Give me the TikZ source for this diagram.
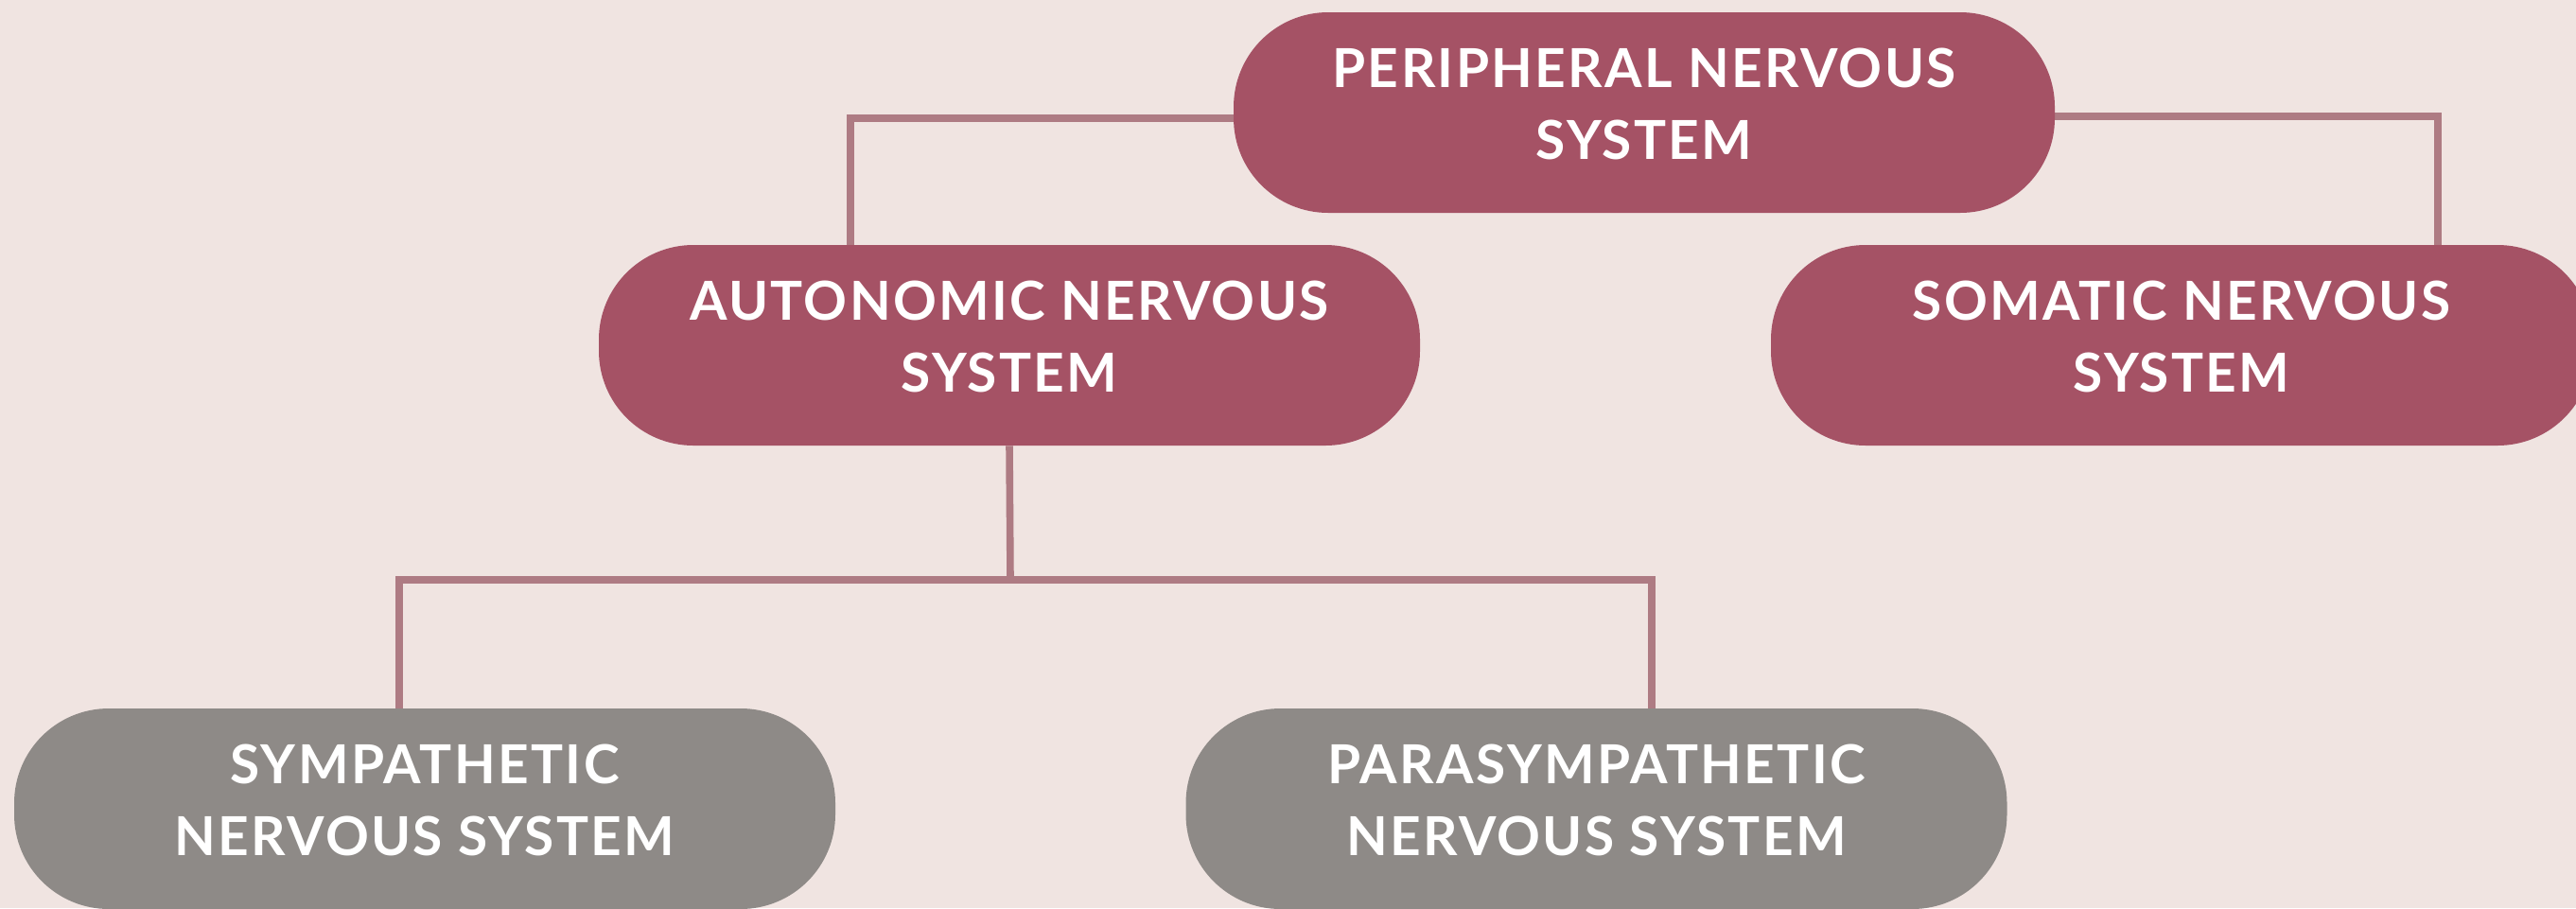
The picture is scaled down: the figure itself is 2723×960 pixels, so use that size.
\documentclass[tikz,border=0pt]{standalone}
\usepackage{fontspec}
\usetikzlibrary{backgrounds}
\newfontfamily\boxfont{Lato}[LetterSpace=4.2]
\definecolor{paper}{HTML}{F0E4E1}
\definecolor{rose}{HTML}{A55265}
\definecolor{stone}{HTML}{8E8A87}
\definecolor{wire}{HTML}{AE7B83}
\begin{document}
\begin{tikzpicture}[x=0.5pt,y=-0.5pt,
  box/.style={rounded corners=50pt, minimum width=434pt, minimum height=106pt,
    inner sep=0pt, align=center, text=white, text depth=9pt,
    font=\boxfont\bfseries\fontsize{28.4}{38}\selectfont},
  upper/.style={box, fill=rose},
  lower/.style={box, fill=stone},
  link/.style={draw=wire, line width=3.8pt, line join=miter}]
\useasboundingbox (0,0) rectangle (2723,960);

% boxes
\node[upper] (pns) at (1738,119) {PERIPHERAL NERVOUS\\SYSTEM};
\node[upper] (ans) at (1067,365) {AUTONOMIC NERVOUS\\SYSTEM};
\node[upper] (sns) at (2306,365) {SOMATIC NERVOUS\\SYSTEM};
\node[lower] (sym) at (449,855) {SYMPATHETIC\\NERVOUS SYSTEM};
\node[lower] (par) at (1687.5,855) {PARASYMPATHETIC\\NERVOUS SYSTEM};

% entry points of the connectors on the box tops
\coordinate (ansin) at (899,259);
\coordinate (snsin) at (2577,259);
\coordinate (hub) at (1068,613);
\coordinate (symin) at (422,749);
\coordinate (parin) at (1746,749);

\begin{scope}[on background layer]
  \fill[paper] (0,0) rectangle (2723,960);
  \draw[link] ([yshift=-3pt]pns.west) -| (ansin);
  \draw[link] ([yshift=-2pt]pns.east) -| (snsin);
  \draw[link] (ans.south) -- (hub);
  \draw[link] (hub) -| (symin);
  \draw[link] (hub) -| (parin);
\end{scope}
\end{tikzpicture}
\end{document}
